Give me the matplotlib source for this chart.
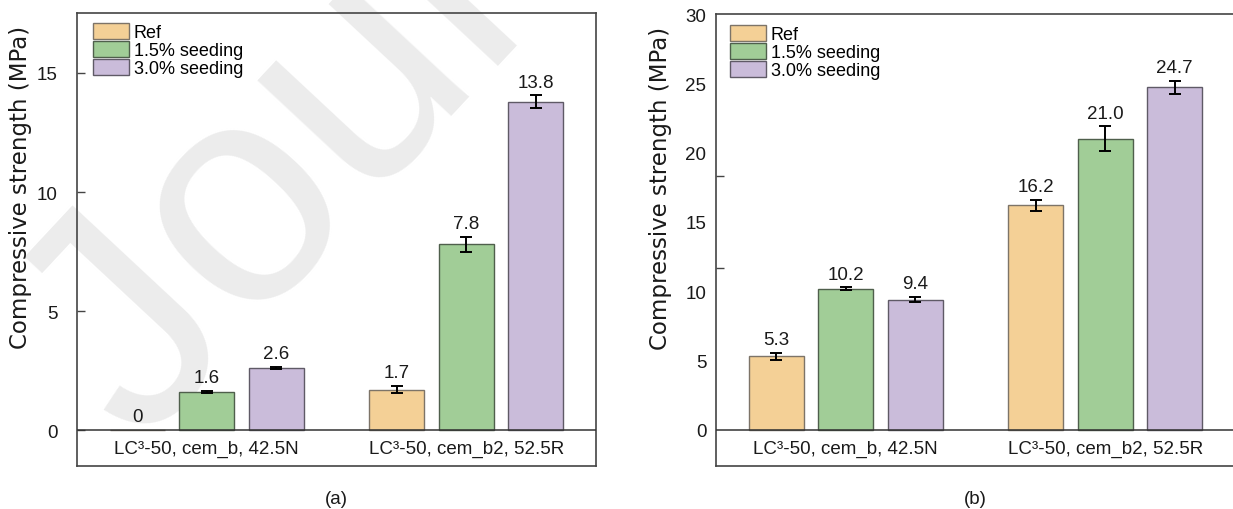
import matplotlib
matplotlib.use("Agg")
import matplotlib.pyplot as plt
import numpy as np

plt.rcParams['font.family'] = ['Liberation Sans', 'DejaVu Sans']

# ---- data -------------------------------------------------------------
groups = ["LC\u00b3-50, cem_b, 42.5N", "LC\u00b3-50, cem_b2, 52.5R"]
series = ["Ref", "1.5% seeding", "3.0% seeding"]

# panel (a)
a_ref = [0.0, 1.7]
a_s15 = [1.6, 7.8]
a_s30 = [2.6, 13.8]
a_ref_err = [0.0, 0.14]
a_s15_err = [0.03, 0.31]
a_s30_err = [0.04, 0.26]

# panel (b)
b_ref = [5.3, 16.2]
b_s15 = [10.2, 21.0]
b_s30 = [9.4, 24.7]
b_ref_err = [0.24, 0.41]
b_s15_err = [0.08, 0.89]
b_s30_err = [0.19, 0.47]

colors = ["#F4D096", "#A1CD97", "#CABCDA"]
edges = ["#7d7468", "#4f5f4c", "#5f5a66"]

W, H = 1233, 510
fig = plt.figure(figsize=(W / 100, H / 100), dpi=100)

# faint watermark behind the axes
fig.text(140 / W, 1 - 450 / H, "Journal Pre-proof", fontsize=225, rotation=47,
         color="#ececec", ha="left", va="baseline", rotation_mode="anchor",
         zorder=-5)


def px_axes(left, top, right, bottom):
    return fig.add_axes([left / W, 1 - bottom / H, (right - left) / W, (bottom - top) / H])


def draw_panel(ax, vals, errs, ylim, label_pad, leg_anchor, ylab_xy):
    x = np.arange(len(groups))
    off, width = 0.268, 0.213
    ax.set_facecolor("none")
    handles = []
    for i, (v, e) in enumerate(zip(vals, errs)):
        pos = x + (i - 1) * off
        b = ax.bar(pos, v, width, color=colors[i], edgecolor=edges[i],
                   linewidth=1.0, label=series[i], zorder=2)
        handles.append(b)
        for xi, vi, ei in zip(pos, v, e):
            if ei > 0:
                ax.errorbar(xi, vi, yerr=ei, fmt="none", ecolor="black",
                            elinewidth=1.4, capsize=4.5, capthick=1.4, zorder=3)
            txt = "0" if vi == 0 else f"{vi:.1f}"
            ax.annotate(txt, (xi, vi + ei), xytext=(0, 3.5),
                        textcoords="offset points", ha="center", va="bottom",
                        fontsize=13.5, color="#1a1a1a")
    ax.axhline(0, color="#333333", linewidth=1.1, zorder=4)
    ax.set_xlim(-0.5, 1.5)
    ax.set_ylim(*ylim)
    ax.set_xticks([])
    trans = ax.get_xaxis_transform()
    for xi, g in zip(x, groups):
        ax.text(xi, 0.039, g, transform=trans, ha="center", va="center",
                fontsize=13.5, color="#1a1a1a")
    for s in ax.spines.values():
        s.set_color("#444444")
        s.set_linewidth(1.2)
    ax.tick_params(axis="y", direction="in", length=6, width=1.0,
                   color="#444444", labelsize=13.5, pad=label_pad,
                   labelcolor="#1a1a1a")
    ax.set_ylabel("Compressive strength (MPa)", fontsize=16.5,
                  family=["DejaVu Sans"], color="#1a1a1a")
    ax.yaxis.set_label_coords(*ylab_xy)
    ax.legend(handles=handles, loc="upper left", bbox_to_anchor=leg_anchor,
              frameon=False, fontsize=13, borderpad=0, borderaxespad=0,
              labelspacing=0.0, handlelength=2.0, handleheight=0.95,
              handletextpad=0.25)


ax1 = px_axes(77, 14, 596, 467)
draw_panel(ax1, [a_ref, a_s15, a_s30], [a_ref_err, a_s15_err, a_s30_err],
           (-1.51, 17.52), 14.0, (0.031, 0.978), (-0.087, 0.617))
ax1.set_yticks([0, 5, 10, 15])

ax2 = px_axes(716, 15, 1235, 467)
draw_panel(ax2, [b_ref, b_s15, b_s30], [b_ref_err, b_s15_err, b_s30_err],
           (-2.6, 30), 7.0, (0.027, 0.975), (-0.0855, 0.617))
# labels every 5 MPa, tick marks on their own spacing
ax2.set_yticks(np.arange(0, 31, 5))
ax2.tick_params(axis="y", which="major", length=0)
ax2.set_yticks([5, 5 + 20 / 3, 5 + 40 / 3, 25], minor=True)
ax2.tick_params(axis="y", which="minor", direction="in", length=6, width=1.0,
                color="#444444")

fig.text((77 + 596) / 2 / W, 1 - 500 / H, "(a)", ha="center", va="center",
         fontsize=13.5, color="#1a1a1a")
fig.text((716 + 1235) / 2 / W, 1 - 500 / H, "(b)", ha="center", va="center",
         fontsize=13.5, color="#1a1a1a")

fig.savefig("out.png", dpi=100)
